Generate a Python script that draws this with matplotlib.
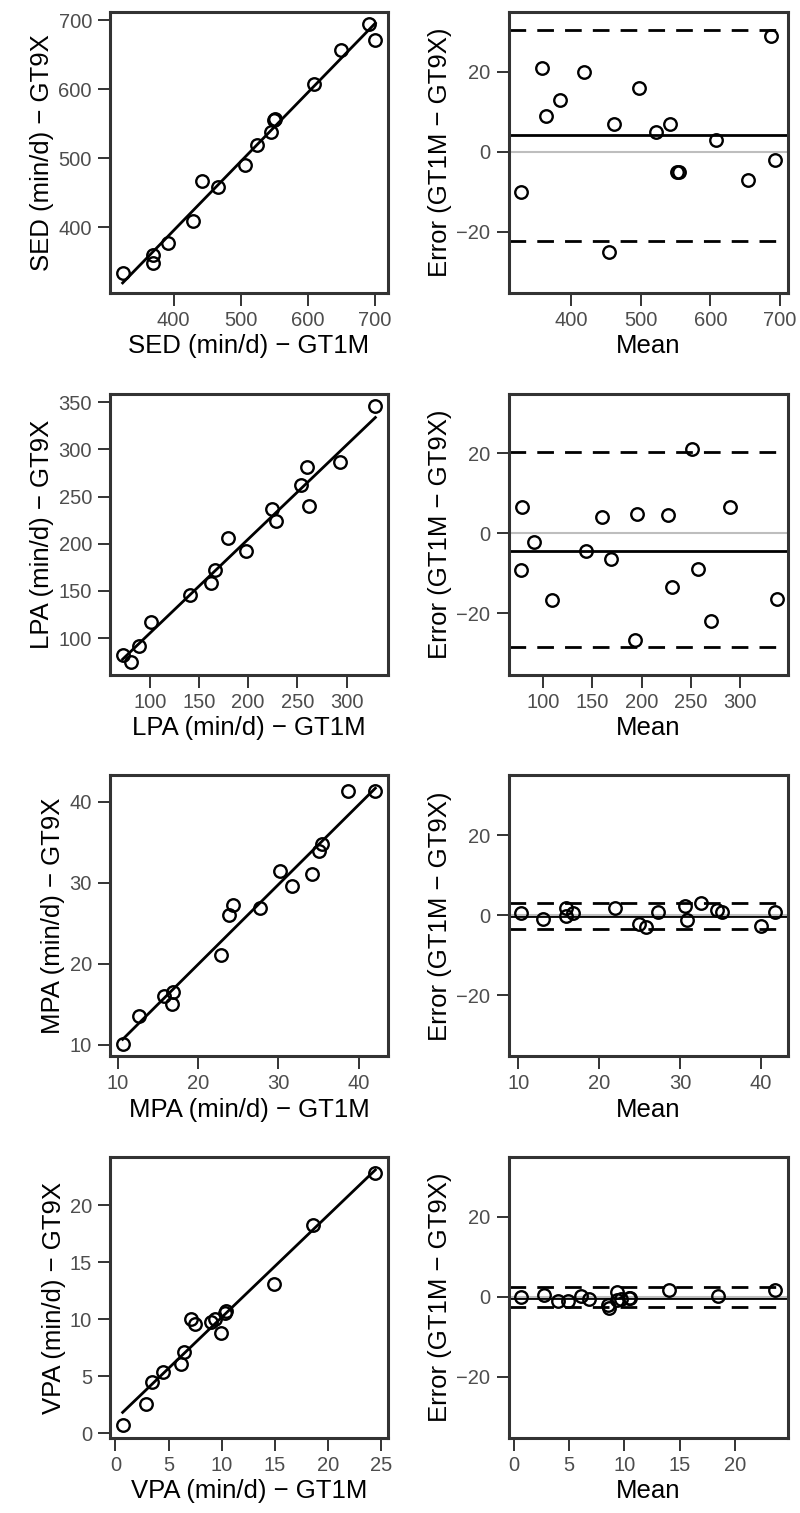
import numpy as np
import matplotlib.pyplot as plt
from matplotlib.ticker import MultipleLocator

plt.rcParams['font.family'] = ['Liberation Sans', 'DejaVu Sans']

# Minutes per day from the two monitors, one value per participant
names = ['SED', 'LPA', 'MPA', 'VPA']

sed_gt1m = [324, 369, 369, 391, 429, 442, 466, 506, 524, 545, 550, 552, 610, 650, 701, 692]
sed_gt9x = [334, 348, 360, 378, 409, 467, 459, 490, 519, 538, 555, 557, 607, 657, 672, 694]

lpa_gt1m = [81.4, 72.5, 89.4, 100.9, 141.3, 162.0, 166.1, 179.6, 197.4, 228.7, 223.8, 261.4, 253.2, 259.5, 293.2, 329.2]
lpa_gt9x = [74.7, 81.6, 91.6, 117.5, 145.6, 158.0, 172.4, 206.3, 192.5, 224.1, 237.3, 240.3, 262.0, 281.5, 286.5, 345.5]

mpa_gt1m = [10.58, 12.59, 15.75, 16.9, 16.78, 22.86, 23.8, 24.3, 27.7, 30.2, 31.7, 34.2, 35.1, 35.5, 38.7, 42.1]
mpa_gt9x = [10.12, 13.49, 16.03, 16.48, 15.05, 21.1, 26.06, 27.25, 26.9, 31.5, 29.55, 31.06, 33.9, 34.85, 41.3, 41.4]

vpa_gt1m = [0.68, 2.9, 3.45, 4.45, 6.15, 6.49, 7.15, 7.45, 8.99, 9.39, 9.94, 10.27, 10.4, 14.9, 18.57, 24.44]
vpa_gt9x = [0.69, 2.54, 4.5, 5.4, 6.06, 7.13, 10.0, 9.6, 9.73, 10.04, 8.8, 10.53, 10.68, 13.13, 18.27, 22.8]

gt1m = [sed_gt1m, lpa_gt1m, mpa_gt1m, vpa_gt1m]
gt9x = [sed_gt9x, lpa_gt9x, mpa_gt9x, vpa_gt9x]

# Bland-Altman bias and limits of agreement
bias = [4.17, -4.33, -0.25, -0.2]
loa_low = [-22.2, -28.5, -3.55, -2.6]
loa_high = [30.3, 20.3, 3.05, 2.4]

tick_step = [100, 50, 10, 5]

fig = plt.figure(figsize=(8, 15.13), dpi=100)


def style(ax):
    for s in ax.spines.values():
        s.set_color('#333333')
        s.set_linewidth(2.2)
    ax.tick_params(direction='out', length=9, width=1.4, color='#333333',
                   labelcolor='#4D4D4D', labelsize=14.5, pad=4)


row_h = 281 / 1513
for i, name in enumerate(names):
    top_px = 12 + 381.7 * i
    bottom = 1 - (top_px + 281) / 1513
    x = np.array(gt1m[i])
    y = np.array(gt9x[i])

    # scatter with linear fit
    ax = fig.add_axes([110 / 800, bottom, 278 / 800, row_h])
    coef = np.polyfit(x, y, 1)
    xs = np.array([x.min(), x.max()])
    ax.plot(xs, np.polyval(coef, xs), color='black', lw=2, zorder=2)
    ax.plot(x, y, 'o', mfc='none', mec='black', ms=9, mew=1.7, zorder=3)
    ax.xaxis.set_major_locator(MultipleLocator(tick_step[i]))
    ax.yaxis.set_major_locator(MultipleLocator(tick_step[i]))
    if name == 'SED':
        ax.set_ylim(305, 712)
    ax.set_xlabel(f'{name} (min/d) \u2212 GT1M', fontsize=18.5, labelpad=3)
    ax.set_ylabel(f'{name} (min/d) \u2212 GT9X', fontsize=18.5, labelpad=3)
    style(ax)

    # Bland-Altman
    ax = fig.add_axes([508.5 / 800, bottom, 279.5 / 800, row_h])
    mean = (x + y) / 2
    diff = x - y
    ax.axhline(loa_low[i], color='black', lw=2, dashes=(6, 4), zorder=1)
    ax.axhline(loa_high[i], color='black', lw=2, dashes=(6, 4), zorder=1)
    ax.axhline(bias[i], color='black', lw=2, zorder=1.5)
    ax.axhline(0, color='#BEBEBE', lw=1.5, zorder=1.8)
    ax.plot(mean, diff, 'o', mfc='none', mec='black', ms=9, mew=1.7, zorder=3)
    ax.set_ylim(-35.3, 34.9)
    if name == 'LPA':
        ax.set_xlim(64.5, 349)
    ax.xaxis.set_major_locator(MultipleLocator(tick_step[i]))
    ax.set_yticks([-20, 0, 20])
    ax.set_xlabel('Mean', fontsize=18.5, labelpad=3)
    ax.set_ylabel('Error (GT1M \u2212 GT9X)', fontsize=18.5, labelpad=3)
    style(ax)

fig.savefig('out.png', dpi=100)
